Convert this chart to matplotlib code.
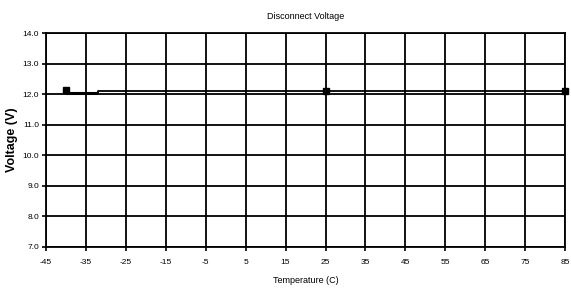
import matplotlib

matplotlib.use("Agg")
import matplotlib.pyplot as plt

# data
temps = [-40, -32, -32, 25, 85]
volts = [12.03, 12.03, 12.1, 12.1, 12.1]
marker_temps = [-40, 25, 85]
marker_volts = [12.15, 12.1, 12.1]

x_ticks = list(range(-45, 86, 10))
y_ticks = [7.0, 8.0, 9.0, 10.0, 11.0, 12.0, 13.0, 14.0]

plt.rcParams["font.family"] = ["Liberation Sans", "DejaVu Sans"]

fig = plt.figure(figsize=(5.71, 2.95), dpi=100)
ax = fig.add_axes([0.0806, 0.163, 0.909, 0.725])

# thick first segment, thinner rest
ax.plot(temps[:2], volts[:2], color="black", linewidth=2.2, solid_capstyle="butt", zorder=3)
ax.plot(temps[1:], volts[1:], color="black", linewidth=1.3, zorder=3)
ax.plot(marker_temps, marker_volts, linestyle="none", marker="s", markersize=3.8,
        color="black", zorder=4, clip_on=False)

ax.set_xlim(-45, 85)
ax.set_ylim(7.0, 14.0)
ax.set_xticks(x_ticks)
ax.set_xticklabels([str(t) for t in x_ticks])
ax.set_yticks(y_ticks)
ax.set_yticklabels([f"{v:.1f}" for v in y_ticks])
ax.grid(True, color="black", linewidth=1.3)
ax.set_axisbelow(True)

for spine in ax.spines.values():
    spine.set_linewidth(1.3)
ax.tick_params(axis="both", labelsize=6, length=3, width=1.2, pad=2)
ax.tick_params(axis="x", pad=6)

ax.set_title("Disconnect Voltage", fontsize=6.5, pad=10)
ax.set_xlabel("Temperature (C)", fontsize=6.5, labelpad=7)
ax.set_ylabel("Voltage (V)", fontsize=9, fontweight="bold", labelpad=3)

fig.savefig("out.png", dpi=100)
